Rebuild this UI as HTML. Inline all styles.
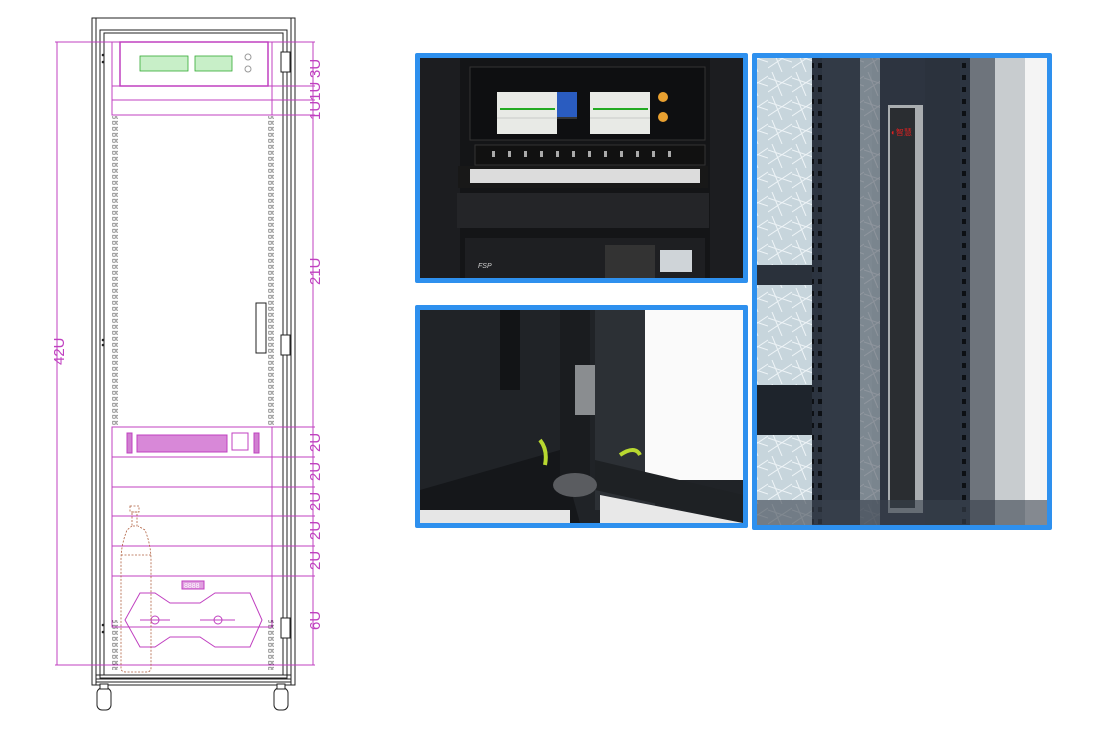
<!DOCTYPE html>
<html><head><meta charset="utf-8"><style>
html,body{margin:0;padding:0;background:#fff;width:1119px;height:734px;overflow:hidden}
svg{display:block}
</style></head><body>
<svg width="1119" height="734" viewBox="0 0 1119 734" xmlns="http://www.w3.org/2000/svg" font-family="Liberation Sans, sans-serif">
<defs>
<pattern id="holes" width="4" height="6" patternUnits="userSpaceOnUse"><rect width="4" height="6" fill="#fff"/><rect x="0.8" y="1.2" width="2.4" height="3" fill="none" stroke="#555" stroke-width="0.6"/></pattern>
<pattern id="rholes" width="8" height="12" patternUnits="userSpaceOnUse"><rect width="8" height="12" fill="#2c3440"/><rect x="2" y="3" width="4" height="5" fill="#0d1014"/></pattern>
<pattern id="glass" width="24" height="24" patternUnits="userSpaceOnUse"><rect width="24" height="24" fill="#c7d5dc"/><path d="M0 6L24 14M4 0L14 24M0 20L24 4" stroke="#eef4f7" stroke-width="1"/></pattern>
</defs>

<!-- ===== Drawing ===== -->
<g fill="none" stroke="#222" stroke-width="1">
<rect x="92" y="18" width="203" height="667"/>
<rect x="96" y="18" width="195" height="667"/>
<rect x="100" y="30" width="187" height="648"/>
<rect x="104" y="33" width="179" height="642"/>
<line x1="96" y1="675" x2="291" y2="675"/>
<line x1="96" y1="679" x2="291" y2="679"/>
<line x1="96" y1="682" x2="291" y2="682"/>
</g>
<rect x="112" y="116" width="6" height="310" fill="url(#holes)"/>
<rect x="268" y="116" width="6" height="310" fill="url(#holes)"/>
<rect x="112" y="620" width="6" height="50" fill="url(#holes)"/>
<rect x="268" y="620" width="6" height="50" fill="url(#holes)"/>
<g fill="#222"><circle cx="103" cy="55" r="1.3"/><circle cx="103" cy="62" r="1.3"/><circle cx="103" cy="340" r="1.3"/><circle cx="103" cy="345" r="1.3"/><circle cx="103" cy="625" r="1.3"/><circle cx="103" cy="632" r="1.3"/></g>
<g fill="#fff" stroke="#222"><rect x="281" y="52" width="9" height="20"/><rect x="281" y="335" width="9" height="20"/><rect x="281" y="618" width="9" height="20"/><rect x="256" y="303" width="10" height="50"/></g>
<g fill="#fff" stroke="#222"><rect x="97" y="688" width="14" height="22" rx="5"/><rect x="274" y="688" width="14" height="22" rx="5"/><rect x="100" y="684" width="8" height="5"/><rect x="277" y="684" width="8" height="5"/></g>

<g stroke="#c040c0" fill="none" stroke-width="1">
<line x1="57" y1="42" x2="57" y2="665"/>
<line x1="55" y1="42" x2="315" y2="42"/>
<line x1="55" y1="665" x2="315" y2="665"/>
<line x1="313" y1="42" x2="313" y2="665"/>
<line x1="112" y1="86" x2="315" y2="86"/>
<line x1="112" y1="100" x2="315" y2="100"/>
<line x1="112" y1="115" x2="315" y2="115"/>
<line x1="112" y1="427" x2="315" y2="427"/>
<line x1="112" y1="457" x2="315" y2="457"/>
<line x1="112" y1="487" x2="315" y2="487"/>
<line x1="112" y1="516" x2="315" y2="516"/>
<line x1="112" y1="546" x2="315" y2="546"/>
<line x1="112" y1="576" x2="315" y2="576"/>
<rect x="112" y="42" width="160" height="73"/>
<rect x="120" y="42" width="148" height="44" stroke-width="1.5"/>
<rect x="112" y="427" width="160" height="200"/>
<rect x="127" y="433" width="5" height="20" fill="#d080d0"/>
<rect x="137" y="435" width="90" height="17" fill="#d888d8"/>
<rect x="232" y="433" width="16" height="17"/>
<rect x="254" y="433" width="5" height="20" fill="#d080d0"/>
<rect x="182" y="581" width="22" height="8" fill="#e0a0e0"/>
<polygon points="140,593 155,593 170,603 200,603 215,593 250,593 262,620 250,647 215,647 200,637 170,637 155,647 140,647 125,620"/>
<line x1="140" y1="620" x2="170" y2="620"/><circle cx="155" cy="620" r="4"/>
<line x1="200" y1="620" x2="235" y2="620"/><circle cx="218" cy="620" r="4"/>
</g>
<g stroke="#3a3" fill="#c8efc8" stroke-width="0.8">
<rect x="140" y="56" width="48" height="15"/><rect x="195" y="56" width="37" height="15"/>
</g>
<g stroke="#999" fill="none"><circle cx="248" cy="57" r="3"/><circle cx="248" cy="69" r="3"/></g>
<g stroke="#b06040" fill="none" stroke-dasharray="2,1.5" stroke-width="0.8">
<rect x="130" y="506" width="9" height="6"/><rect x="132" y="512" width="5" height="14"/>
<path d="M132 526 L127 530 Q121 545 121 560 L121 668 Q121 672 126 672 L146 672 Q151 672 151 668 L151 560 Q151 545 145 530 L138 526"/>
<line x1="121" y1="555" x2="151" y2="555"/>
</g>
<g fill="#c040c0" font-size="15">
<text transform="translate(64,365) rotate(-90)">42U</text>
<text transform="translate(320,78) rotate(-90)">3U</text>
<text transform="translate(320,120) rotate(-90)">1U1U</text>
<text transform="translate(320,285) rotate(-90)">21U</text>
<text transform="translate(320,452) rotate(-90)">2U</text>
<text transform="translate(320,481) rotate(-90)">2U</text>
<text transform="translate(320,511) rotate(-90)">2U</text>
<text transform="translate(320,540) rotate(-90)">2U</text>
<text transform="translate(320,570) rotate(-90)">2U</text>
<text transform="translate(320,630) rotate(-90)">6U</text>
</g>
<text x="184" y="588" font-size="7" fill="#fff">8888</text>

<!-- ===== Photo 1 ===== -->
<rect x="415" y="53" width="333" height="230" fill="#2e90ee" rx="2"/>
<rect x="420" y="58" width="323" height="220" fill="#1c1d20"/>
<rect x="460" y="58" width="250" height="220" fill="#141517"/>
<rect x="470" y="67" width="235" height="73" fill="#0e0f11" stroke="#333"/>
<rect x="497" y="92" width="60" height="42" fill="#e8eae6"/>
<rect x="557" y="92" width="20" height="25" fill="#2a5cc0"/>
<rect x="590" y="92" width="60" height="42" fill="#e8eae6"/>
<g fill="#2a2"><rect x="500" y="108" width="55" height="2"/><rect x="593" y="108" width="55" height="2"/></g>
<g stroke="#aaa" stroke-width="0.6"><line x1="497" y1="118" x2="577" y2="118"/><line x1="590" y1="118" x2="650" y2="118"/></g>
<circle cx="663" cy="97" r="5" fill="#e8a030"/><circle cx="663" cy="117" r="5" fill="#e8a030"/>
<rect x="475" y="145" width="230" height="20" fill="#111" stroke="#333"/>
<g fill="#aaa"><rect x="492" y="151" width="3" height="6"/><rect x="508" y="151" width="3" height="6"/><rect x="524" y="151" width="3" height="6"/><rect x="540" y="151" width="3" height="6"/><rect x="556" y="151" width="3" height="6"/><rect x="572" y="151" width="3" height="6"/><rect x="588" y="151" width="3" height="6"/><rect x="604" y="151" width="3" height="6"/><rect x="620" y="151" width="3" height="6"/><rect x="636" y="151" width="3" height="6"/><rect x="652" y="151" width="3" height="6"/><rect x="668" y="151" width="3" height="6"/></g>
<rect x="458" y="166" width="250" height="22" fill="#181818"/>
<rect x="470" y="169" width="230" height="14" fill="#dcdcdc"/>
<rect x="457" y="193" width="252" height="35" fill="#242528"/>
<rect x="465" y="238" width="240" height="40" fill="#1e1f22"/>
<rect x="605" y="245" width="50" height="33" fill="#333"/>
<rect x="660" y="250" width="32" height="22" fill="#cfd4d8"/>
<text x="478" y="268" font-size="7" fill="#ccc" font-style="italic">FSP</text>

<!-- ===== Photo 2 ===== -->
<rect x="415" y="305" width="333" height="223" fill="#2e90ee" rx="2"/>
<rect x="420" y="310" width="323" height="213" fill="#202327"/>
<polygon points="420,490 560,450 580,523 420,523" fill="#15171a"/>
<rect x="420" y="510" width="150" height="13" fill="#e6e6e6"/>
<rect x="500" y="310" width="20" height="80" fill="#121416"/>
<rect x="560" y="310" width="30" height="170" fill="#1a1c1f"/>
<rect x="575" y="365" width="22" height="50" fill="#8a8d90"/>
<rect x="595" y="310" width="60" height="200" fill="#2c3035"/>
<rect x="645" y="310" width="98" height="170" fill="#fafafa"/>
<polygon points="595,460 743,495 743,523 595,490" fill="#1e2124"/>
<polygon points="600,495 743,523 600,523" fill="#e8e8e8"/>
<ellipse cx="575" cy="485" rx="22" ry="12" fill="#5a5c60"/>
<path d="M540 440 q8 10 5 25 M620 455 q15 -10 20 0" stroke="#b8d830" stroke-width="4" fill="none"/>

<!-- ===== Photo 3 ===== -->
<rect x="752" y="53" width="300" height="477" fill="#2e90ee" rx="2"/>
<rect x="757" y="58" width="290" height="467" fill="#2d3440"/>
<rect x="757" y="58" width="55" height="467" fill="url(#glass)"/>
<rect x="757" y="265" width="60" height="20" fill="#2a313b"/>
<rect x="757" y="385" width="60" height="50" fill="#1e242c"/>
<rect x="812" y="58" width="10" height="467" fill="url(#rholes)"/>
<rect x="822" y="58" width="50" height="467" fill="#323a46"/>
<rect x="860" y="58" width="20" height="467" fill="url(#glass)" opacity="0.5"/>
<rect x="888" y="105" width="35" height="408" fill="#a9adb0"/>
<rect x="890" y="108" width="25" height="400" fill="#2a2d31"/>
<text x="891" y="135" font-size="8" fill="#e02020">◐智慧</text>
<rect x="925" y="58" width="40" height="467" fill="#2b323d"/>
<rect x="960" y="58" width="10" height="467" fill="url(#rholes)"/>
<rect x="970" y="58" width="25" height="467" fill="#6e747c"/>
<rect x="995" y="58" width="30" height="467" fill="#c8cccf"/>
<rect x="1025" y="58" width="22" height="467" fill="#f4f4f4"/>
<rect x="757" y="500" width="290" height="25" fill="#39414d" opacity="0.6"/>
</svg>
</body></html>
